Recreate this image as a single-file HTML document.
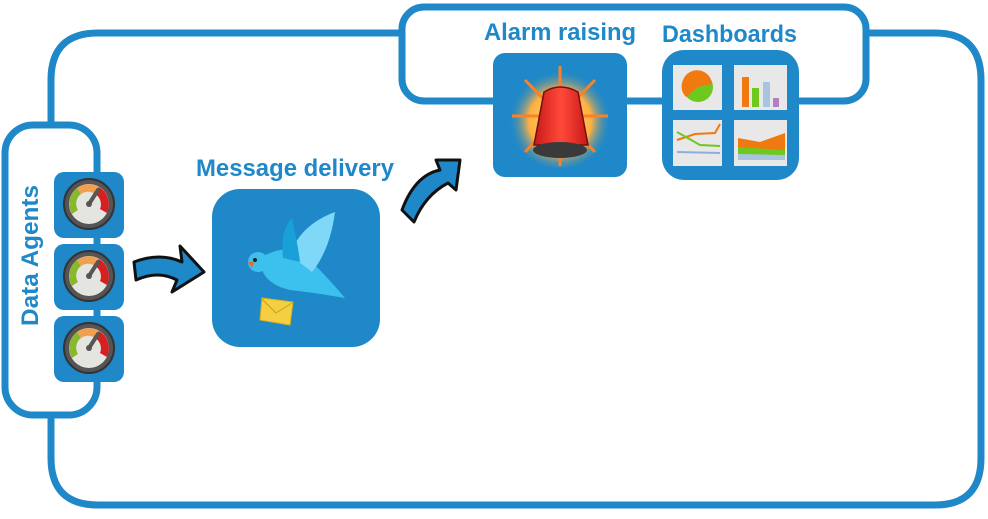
<!DOCTYPE html>
<html><head><style>
body{margin:0;width:988px;height:514px;background:#fff;overflow:hidden;font-family:"Liberation Sans",sans-serif}
</style></head><body>
<svg width="988" height="514" viewBox="0 0 988 514" xmlns="http://www.w3.org/2000/svg">
<defs>
<radialGradient id="glow" cx="50%" cy="55%" r="50%"><stop offset="0" stop-color="#ffe080"/><stop offset="0.6" stop-color="#ffb040"/><stop offset="1" stop-color="#1e88c8" stop-opacity="0"/></radialGradient>
<linearGradient id="red" x1="0" x2="1"><stop offset="0" stop-color="#c81818"/><stop offset="0.5" stop-color="#ff4a3a"/><stop offset="1" stop-color="#c81818"/></linearGradient>
<g id="gauge">
<circle r="25" fill="#555" stroke="#333" stroke-width="2"/>
<circle r="20" fill="#e4e4e0"/>
<path d="M-17 10 A20 20 0 0 1 -12 -16 L-8 -10 A12 12 0 0 0 -11 6Z" fill="#8ab82c"/>
<path d="M-12 -16 A20 20 0 0 1 10 -17 L6 -10 A12 12 0 0 0 -8 -10Z" fill="#f0a050"/>
<path d="M10 -17 A20 20 0 0 1 18 9 L11 5 A12 12 0 0 0 6 -10Z" fill="#d42020"/>
<line x1="0" y1="0" x2="9" y2="-14" stroke="#555" stroke-width="4" stroke-linecap="round"/>
<circle r="3" fill="#555"/>
</g>
</defs>
<g fill="none" stroke="#1e88c8" stroke-width="7">
<path d="M51 125 L51 80 Q51 33 98 33 L402 33 M866 33 L935 33 Q981 33 981 80 L981 458 Q981 505 935 505 L98 505 Q51 505 51 458 L51 415"/>
<rect x="5" y="125" width="92" height="290" rx="28"/>
<rect x="402" y="7" width="464" height="94" rx="22"/>
</g>
<g fill="#1e88c8">
<rect x="54" y="172" width="70" height="66" rx="10"/>
<rect x="54" y="244" width="70" height="66" rx="10"/>
<rect x="54" y="316" width="70" height="66" rx="10"/>
<rect x="212" y="189" width="168" height="158" rx="28"/>
<rect x="493" y="53" width="134" height="124" rx="12"/>
<rect x="662" y="50" width="137" height="130" rx="22"/>
</g>
<use href="#gauge" x="89" y="204"/>
<use href="#gauge" x="89" y="276"/>
<use href="#gauge" x="89" y="348"/>
<g>
<path d="M260 258 Q290 240 310 260 Q330 280 345 298 Q310 292 290 290 Q268 285 262 270Z" fill="#3cc0ee"/>
<path d="M290 255 Q300 225 335 212 Q330 250 312 272Z" fill="#7fd8f8"/>
<path d="M283 258 Q280 230 292 218 Q298 245 300 262Z" fill="#1aa0d8"/>
<circle cx="258" cy="262" r="10" fill="#3cc0ee"/>
<circle cx="255" cy="260" r="2" fill="#222"/>
<path d="M248 262 L252 268 L254 262Z" fill="#e86a30"/>
<path d="M262 298 L293 302 L290 325 L260 320Z" fill="#f4d040" stroke="#d8b020"/>
<path d="M262 299 L276 313 L292 303" fill="none" stroke="#c8a018"/>
</g>
<circle cx="560" cy="116" r="52" fill="url(#glow)"/>
<g stroke="#ff8020" stroke-width="3">
<line x1="512" y1="116" x2="608" y2="116"/><line x1="560" y1="66" x2="560" y2="166"/>
<line x1="525" y1="80" x2="595" y2="152"/><line x1="595" y1="80" x2="525" y2="152"/>
</g>
<path d="M544 92 Q560 82 578 92 L588 145 L534 145Z" fill="url(#red)" stroke="#701010" stroke-width="1.5"/>
<ellipse cx="560" cy="150" rx="27" ry="8" fill="#3a3a3a"/>
<g fill="#e8e8e8"><rect x="673" y="65" width="49" height="45"/><rect x="734" y="65" width="53" height="45"/><rect x="673" y="120" width="49" height="46"/><rect x="734" y="120" width="53" height="46"/></g>
<circle cx="698" cy="87" r="15" fill="#6ec81e"/><path d="M698 87 L698 72 A15 15 0 0 1 712 84Z" fill="#8ab0d8"/><path d="M698 87 L712 84 A15 15 0 0 0 683 80 A15 15 0 0 0 686 97Z" fill="#f07a10"/>
<g><rect x="742" y="77" width="7" height="30" fill="#f07a10"/><rect x="752" y="88" width="7" height="19" fill="#6ec81e"/><rect x="763" y="82" width="7" height="25" fill="#a8c4e0"/><rect x="773" y="98" width="6" height="9" fill="#b080c0"/></g>
<path d="M677 140 L695 134 L715 133 L720 124" stroke="#f07a10" fill="none" stroke-width="2"/><path d="M677 132 L700 145 L720 146" stroke="#6ec81e" fill="none" stroke-width="2"/><path d="M677 152 L720 153" stroke="#8ab0d8" fill="none" stroke-width="2"/>
<path d="M738 160 L738 138 L760 142 L785 133 L785 160Z" fill="#f07a10"/><path d="M738 160 L738 147 L785 150 L785 160Z" fill="#6ec81e"/><path d="M738 160 L738 154 L785 155 L785 160Z" fill="#a8c4e0"/>
<path d="M134 262 Q160 252 182 262 L180 246 L204 272 L172 292 L177 280 Q158 270 136 280Z" fill="#1e88c8" stroke="#111" stroke-width="3" stroke-linejoin="round"/>
<path d="M402 210 Q415 175 440 170 L436 160 L460 160 L456 190 L448 183 Q425 195 414 222Z" fill="#1e88c8" stroke="#111" stroke-width="3" stroke-linejoin="round"/>
<g font-family="Liberation Sans, sans-serif" font-weight="bold" font-size="24" fill="#1e88c8">
<text x="196" y="176" textLength="198" lengthAdjust="spacingAndGlyphs">Message delivery</text>
<text x="484" y="40" textLength="152" lengthAdjust="spacingAndGlyphs">Alarm raising</text>
<text x="662" y="42" textLength="135" lengthAdjust="spacingAndGlyphs">Dashboards</text>
<text transform="translate(38,326) rotate(-90)" x="0" y="0" textLength="141" lengthAdjust="spacingAndGlyphs">Data Agents</text>
</g>
</svg>
</body></html>
